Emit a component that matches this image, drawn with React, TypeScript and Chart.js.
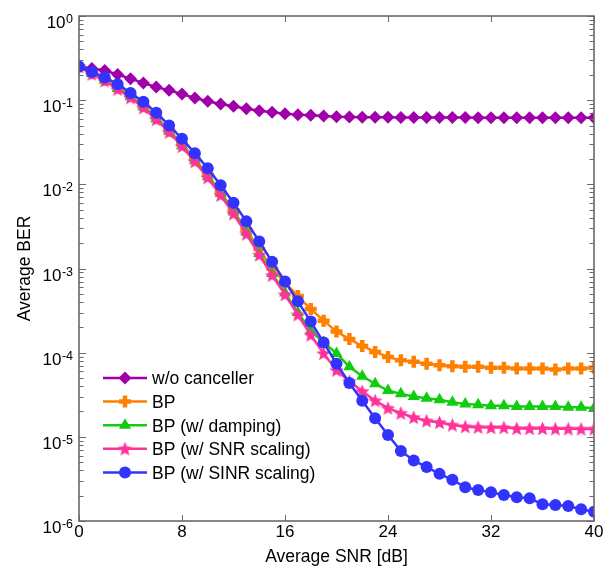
import React, { useEffect, useRef } from 'react';
import { Chart, registerables } from 'chart.js';

Chart.register(...registerables);

// ---------- data ----------
const SNR_DB = [0, 1, 2, 3, 4, 5, 6, 7, 8, 9, 10, 11, 12, 13, 14, 15, 16, 17, 18, 19, 20,
  21, 22, 23, 24, 25, 26, 27, 28, 29, 30, 31, 32, 33, 34, 35, 36, 37, 38, 39, 40];

const BER_NO_CANCEL = [0.251, 0.238, 0.225, 0.202, 0.180, 0.160, 0.143, 0.131, 0.118, 0.106, 0.097,
  0.090, 0.0846, 0.079, 0.075, 0.0718, 0.069, 0.067, 0.066, 0.065, 0.0635,
  0.063, 0.0628, 0.0626, 0.0625, 0.0624, 0.0623, 0.0622, 0.0622, 0.0621, 0.0621,
  0.062, 0.062, 0.062, 0.0619, 0.0619, 0.0619, 0.0618, 0.0618, 0.0617, 0.0617];

const BER_BP = [0.251, 0.209, 0.174, 0.141, 0.112, 0.0851, 0.0631, 0.0437, 0.0302, 0.0200, 0.0129,
  0.00813, 0.0049, 0.00288, 0.0017, 0.0010, 6.8e-4, 4.7e-4, 3.3e-4, 2.4e-4, 1.78e-4,
  1.45e-4, 1.20e-4, 1.02e-4, 8.9e-5, 8.1e-5, 7.8e-5, 7.4e-5, 7.1e-5, 6.9e-5, 6.8e-5,
  6.8e-5, 6.6e-5, 6.6e-5, 6.5e-5, 6.5e-5, 6.5e-5, 6.3e-5, 6.5e-5, 6.5e-5, 6.6e-5];

const BER_BP_DAMPING = [0.251, 0.207, 0.172, 0.138, 0.110, 0.0832, 0.0603, 0.0427, 0.0288, 0.0191, 0.0123,
  0.00776, 0.00468, 0.00269, 0.00151, 8.7e-4, 5.1e-4, 3.0e-4, 1.82e-4, 1.32e-4, 9.8e-5,
  6.8e-5, 5.25e-5, 4.27e-5, 3.55e-5, 3.24e-5, 3.02e-5, 2.88e-5, 2.75e-5, 2.57e-5, 2.45e-5,
  2.4e-5, 2.34e-5, 2.34e-5, 2.29e-5, 2.29e-5, 2.29e-5, 2.29e-5, 2.24e-5, 2.24e-5, 2.19e-5];

const BER_BP_SNR = [0.251, 0.204, 0.170, 0.135, 0.107, 0.0813, 0.0589, 0.0417, 0.0282, 0.0186, 0.0120,
  0.00741, 0.00447, 0.00257, 0.00145, 8.3e-4, 4.9e-4, 2.82e-4, 1.62e-4, 9.8e-5, 6.2e-5,
  4.57e-5, 3.47e-5, 2.69e-5, 2.19e-5, 1.91e-5, 1.70e-5, 1.55e-5, 1.48e-5, 1.38e-5, 1.32e-5,
  1.30e-5, 1.29e-5, 1.29e-5, 1.26e-5, 1.26e-5, 1.26e-5, 1.245e-5, 1.245e-5, 1.24e-5, 1.24e-5];

const BER_BP_SINR = [0.251, 0.216, 0.186, 0.155, 0.1216, 0.0955, 0.0708, 0.0501, 0.0347, 0.0234, 0.0155,
  0.00977, 0.00603, 0.00363, 0.00209, 0.00120, 7.0e-4, 4.07e-4, 2.34e-4, 1.32e-4, 7.4e-5,
  4.37e-5, 2.69e-5, 1.66e-5, 1.05e-5, 6.8e-6, 5.25e-6, 4.37e-6, 3.63e-6, 3.09e-6, 2.51e-6,
  2.34e-6, 2.19e-6, 2.04e-6, 1.91e-6, 1.86e-6, 1.58e-6, 1.55e-6, 1.51e-6, 1.38e-6, 1.29e-6];

const SERIES_LABELS = ['w/o canceller', 'BP', 'BP (w/ damping)', 'BP (w/ SNR scaling)', 'BP (w/ SINR scaling)'];
const X_TICKS = [0, 8, 16, 24, 32, 40];
const Y_EXPONENTS = [0, -1, -2, -3, -4, -5, -6];
const X_TITLE = 'Average SNR [dB]';
const Y_TITLE = 'Average BER';

// ---------- styles ----------
const COLORS = ['#A000AA', '#FF8000', '#11CC11', '#FF3399', '#3333FF'];
const STYLES = ['rectRot', 'cross', 'triangle', 'star', 'circle'];
const FONT = '"Liberation Sans", Arial, Helvetica, sans-serif';
const AXIS_COLOR = '#6a6a6a';

function makeStar(color: string): HTMLCanvasElement {
  const c = document.createElement('canvas');
  c.width = 17; c.height = 17;
  const g = c.getContext('2d')!;
  const cx = 8.5, cy = 9, R = 7.6, r = 3.4;
  g.beginPath();
  for (let i = 0; i < 10; i++) {
    const ang = -Math.PI / 2 + (i * Math.PI) / 5;
    const rad = i % 2 === 0 ? R : r;
    const px = cx + Math.cos(ang) * rad;
    const py = cy + Math.sin(ang) * rad;
    if (i === 0) g.moveTo(px, py); else g.lineTo(px, py);
  }
  g.closePath();
  g.fillStyle = color;
  g.fill();
  return c;
}

function drawMarker(ctx: CanvasRenderingContext2D, style: string, x: number, y: number, color: string, star: HTMLCanvasElement) {
  ctx.save();
  ctx.fillStyle = color;
  ctx.strokeStyle = color;
  if (style === 'circle') {
    ctx.beginPath(); ctx.arc(x, y, 6, 0, Math.PI * 2); ctx.fill();
  } else if (style === 'rectRot') {
    const r = 6.5;
    ctx.beginPath(); ctx.moveTo(x, y - r); ctx.lineTo(x + r, y); ctx.lineTo(x, y + r); ctx.lineTo(x - r, y); ctx.closePath(); ctx.fill();
  } else if (style === 'triangle') {
    const r = 7;
    ctx.beginPath();
    for (let i = 0; i < 3; i++) {
      const a = (i * 2 * Math.PI) / 3;
      const px = x + Math.sin(a) * r, py = y - Math.cos(a) * r;
      if (i === 0) ctx.moveTo(px, py); else ctx.lineTo(px, py);
    }
    ctx.closePath(); ctx.fill();
  } else if (style === 'cross') {
    const r = 6;
    ctx.lineWidth = 4.5;
    ctx.beginPath(); ctx.moveTo(x - r, y); ctx.lineTo(x + r, y); ctx.moveTo(x, y - r); ctx.lineTo(x, y + r); ctx.stroke();
  } else if (style === 'star') {
    ctx.drawImage(star, x - star.width / 2, y - star.height / 2);
  }
  ctx.restore();
}

export default function App() {
  const ref = useRef<HTMLCanvasElement | null>(null);

  useEffect(() => {
    if (!ref.current) return;
    const star = makeStar(COLORS[3]);
    const seriesValues = [BER_NO_CANCEL, BER_BP, BER_BP_DAMPING, BER_BP_SNR, BER_BP_SINR];
    const orders = [5, 4, 3, 2, 1];

    const datasets = seriesValues.map((vals, i) => ({
      label: SERIES_LABELS[i],
      data: SNR_DB.map((x, k) => ({ x, y: vals[k] })),
      borderColor: COLORS[i],
      backgroundColor: COLORS[i],
      borderWidth: 2.5,
      pointStyle: (STYLES[i] === 'star' ? star : STYLES[i]) as any,
      pointRadius: STYLES[i] === 'rectRot' ? 6.5 : STYLES[i] === 'triangle' ? 7 : 6,
      pointBorderWidth: STYLES[i] === 'cross' ? 4.5 : 0,
      pointBorderColor: COLORS[i],
      pointBackgroundColor: COLORS[i],
      tension: 0,
      clip: 0,
      order: orders[i],
    }));

    const framePlugin = {
      id: 'frameAndText',
      afterDatasetsDraw(chart: any) {
        const { ctx, chartArea: a, scales } = chart;
        const xs = scales.x, ys = scales.y;
        ctx.save();
        // ticks
        ctx.strokeStyle = AXIS_COLOR;
        ctx.lineWidth = 1;
        for (const v of X_TICKS) {
          const px = Math.round(xs.getPixelForValue(v)) + 0.5;
          ctx.beginPath();
          ctx.moveTo(px, a.bottom); ctx.lineTo(px, a.bottom - 6);
          ctx.moveTo(px, a.top); ctx.lineTo(px, a.top + 6);
          ctx.stroke();
        }
        for (const e of Y_EXPONENTS) {
          const base = Math.pow(10, e);
          const py = Math.round(ys.getPixelForValue(base)) + 0.5;
          ctx.beginPath();
          ctx.moveTo(a.left, py); ctx.lineTo(a.left + 7, py);
          ctx.moveTo(a.right, py); ctx.lineTo(a.right - 7, py);
          ctx.stroke();
          if (e < 0) {
            for (let m = 2; m <= 9; m++) {
              const my = Math.round(ys.getPixelForValue(m * base)) + 0.5;
              ctx.beginPath();
              ctx.moveTo(a.left, my); ctx.lineTo(a.left + 4.5, my);
              ctx.moveTo(a.right, my); ctx.lineTo(a.right - 4.5, my);
              ctx.stroke();
            }
          }
        }
        // frame
        ctx.lineWidth = 1.6;
        ctx.strokeRect(a.left, a.top, a.right - a.left, a.bottom - a.top);

        // x tick labels
        ctx.fillStyle = '#000';
        ctx.font = `17px ${FONT}`;
        ctx.textAlign = 'center';
        ctx.textBaseline = 'alphabetic';
        for (const v of X_TICKS) {
          ctx.fillText(String(v), xs.getPixelForValue(v), a.bottom + 16);
        }
        // y tick labels 10^e
        ctx.textAlign = 'left';
        for (const e of Y_EXPONENTS) {
          const py = ys.getPixelForValue(Math.pow(10, e));
          const exp = String(e);
          ctx.font = `17px ${FONT}`;
          const wb = ctx.measureText('10').width;
          ctx.font = `12.5px ${FONT}`;
          const we = ctx.measureText(exp).width;
          const x0 = a.left - 6 - we - wb - 0.5;
          ctx.font = `17px ${FONT}`;
          ctx.fillText('10', x0, py + 12);
          ctx.font = `12.5px ${FONT}`;
          ctx.fillText(exp, x0 + wb + 0.5, py + 7);
        }
        // axis titles
        ctx.font = `17.5px ${FONT}`;
        ctx.textAlign = 'center';
        ctx.fillText(X_TITLE, (a.left + a.right) / 2, a.bottom + 41);
        ctx.save();
        ctx.translate(29.5, (a.top + a.bottom) / 2);
        ctx.rotate(-Math.PI / 2);
        ctx.fillText(Y_TITLE, 0, 0);
        ctx.restore();
        ctx.restore();
      },
      afterDraw(chart: any) {
        const { ctx, chartArea: a } = chart;
        ctx.save();
        const x1 = a.left + 24, x2 = a.left + 68, mx = a.left + 46, tx = a.left + 73;
        const y0 = a.bottom - 143, dy = 23.6;
        SERIES_LABELS.forEach((lab, i) => {
          const yy = y0 + i * dy;
          ctx.strokeStyle = COLORS[i];
          ctx.lineWidth = 2.5;
          ctx.beginPath(); ctx.moveTo(x1, yy); ctx.lineTo(x2, yy); ctx.stroke();
          drawMarker(ctx, STYLES[i], mx, yy, COLORS[i], star);
          ctx.fillStyle = '#000';
          ctx.font = `17.5px ${FONT}`;
          ctx.textAlign = 'left';
          ctx.textBaseline = 'alphabetic';
          ctx.fillText(lab, tx, yy + 6.3);
        });
        ctx.restore();
      },
    };

    const chart = new Chart(ref.current, {
      type: 'line',
      data: { datasets: datasets as any },
      options: {
        responsive: false,
        animation: false,
        devicePixelRatio: 1,
        layout: { padding: { left: 79, top: 16, right: 17, bottom: 49 } },
        scales: {
          x: { type: 'linear', min: 0, max: 40, display: false },
          y: { type: 'logarithmic', min: 1e-6, max: 1, display: false },
        },
        plugins: { legend: { display: false }, tooltip: { enabled: false } },
        events: [],
      },
      plugins: [framePlugin as any],
    });
    return () => chart.destroy();
  }, []);

  return (
    <div style={{ position: 'absolute', left: 0, top: 0, width: 611, height: 570, background: '#fff' }}>
      <canvas ref={ref} width={611} height={570} />
    </div>
  );
}
